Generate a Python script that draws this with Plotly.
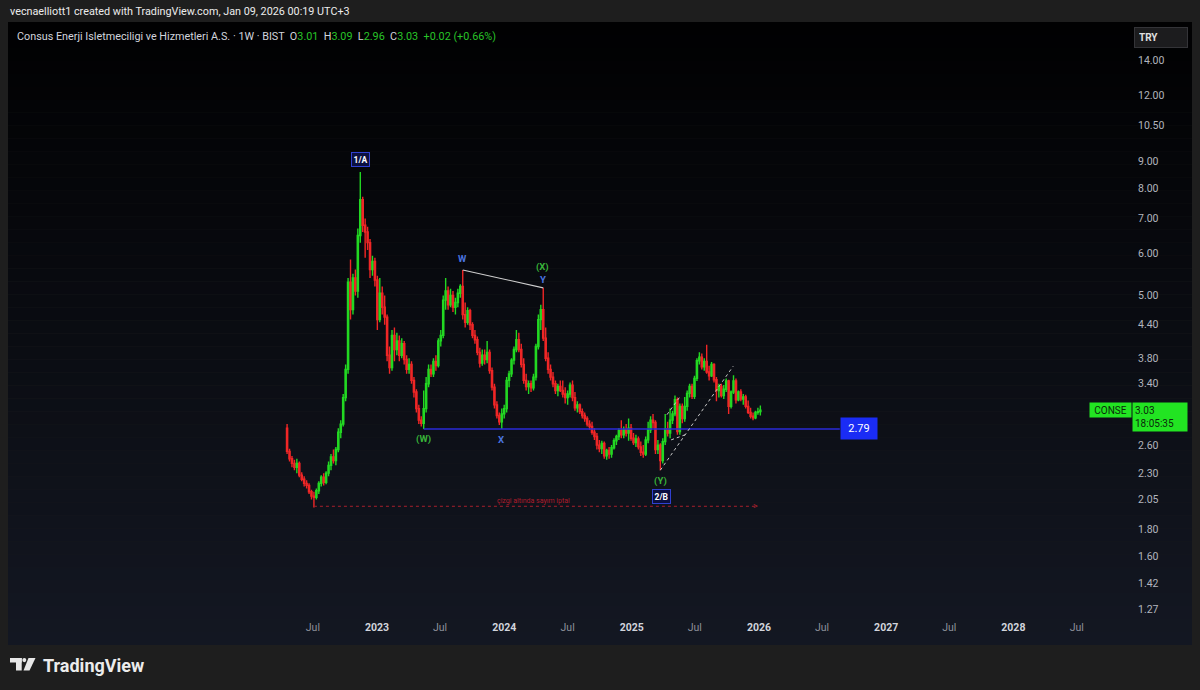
import numpy as np
import pandas as pd
import plotly.graph_objects as go

# ---------------- data (weekly OHLC) ----------------
open_ = [
    2.80, 2.53, 2.45, 2.40, 2.36, 2.40, 2.28, 2.24, 2.20, 2.18,
    2.12, 2.08, 2.07, 2.13, 2.20, 2.26, 2.21, 2.30, 2.38, 2.47,
    2.43, 2.55, 2.75, 2.85, 3.20, 3.62, 5.30, 4.70, 5.40, 5.10,
    6.50, 7.60, 6.80, 6.60, 6.30, 5.60, 5.80, 5.35, 4.50, 5.05,
    4.75, 4.55, 3.85, 3.65, 4.20, 3.95, 4.10, 3.85, 4.05, 3.78,
    3.62, 3.70, 3.45, 3.28, 3.05, 2.90, 2.86, 3.05, 3.40, 3.62,
    3.55, 3.75, 3.68, 4.10, 4.20, 4.90, 5.10, 4.80, 5.00, 4.75,
    4.85, 5.05, 5.20, 4.60, 4.45, 4.68, 4.40, 4.20, 4.12, 3.90,
    3.72, 3.85, 3.78, 3.90, 3.60, 3.35, 3.10, 2.96, 2.88, 2.98,
    3.05, 3.45, 3.55, 3.77, 3.95, 4.12, 3.95, 3.70, 3.45, 3.36,
    3.40, 3.34, 3.50, 4.00, 4.50, 4.70, 4.15, 3.80, 3.62, 3.50,
    3.40, 3.30, 3.36, 3.30, 3.25, 3.20, 3.25, 3.38, 3.20, 3.06,
    3.10, 3.01, 2.96, 2.92, 2.85, 2.82, 2.75, 2.70, 2.60, 2.56,
    2.62, 2.48, 2.54, 2.50, 2.57, 2.65, 2.70, 2.77, 2.72, 2.78,
    2.74, 2.80, 2.68, 2.63, 2.67, 2.58, 2.52, 2.50, 2.66, 2.78,
    2.90, 2.87, 2.55, 2.60, 2.43, 2.64, 2.79, 2.74, 2.90, 2.98,
    3.17, 2.76, 3.08, 2.92, 3.08, 3.26, 3.36, 3.22, 3.48, 3.76,
    3.82, 3.66, 3.75, 3.58, 3.52, 3.70, 3.46, 3.30, 3.36, 3.23,
    3.32, 3.44, 3.08, 3.28, 3.44, 3.17, 3.28, 3.18, 3.21, 3.08,
    3.00, 2.95, 2.93, 3.00, 3.01]
high = [
    2.85, 2.56, 2.48, 2.44, 2.45, 2.42, 2.31, 2.27, 2.23, 2.20,
    2.14, 2.12, 2.15, 2.22, 2.28, 2.30, 2.32, 2.42, 2.50, 2.55,
    2.58, 2.80, 2.90, 3.25, 3.70, 5.40, 5.85, 5.50, 5.60, 6.70,
    8.58, 7.70, 7.00, 6.75, 6.40, 5.95, 5.90, 5.45, 5.40, 5.20,
    5.00, 4.60, 4.00, 4.30, 4.35, 4.25, 4.20, 4.15, 4.10, 3.85,
    3.80, 3.75, 3.50, 3.32, 3.10, 2.95, 3.30, 3.50, 3.70, 3.70,
    3.80, 3.85, 4.15, 4.30, 5.00, 5.40, 5.20, 5.15, 5.10, 4.95,
    5.15, 5.25, 5.59, 4.85, 4.75, 4.72, 4.45, 4.30, 4.18, 3.98,
    3.95, 3.95, 4.10, 3.95, 3.65, 3.40, 3.15, 3.00, 3.05, 3.10,
    3.50, 3.60, 3.80, 4.00, 4.30, 4.25, 4.05, 3.80, 3.55, 3.45,
    3.45, 3.55, 4.05, 4.60, 4.80, 5.17, 4.35, 3.90, 3.70, 3.58,
    3.45, 3.40, 3.45, 3.45, 3.35, 3.30, 3.42, 3.45, 3.28, 3.15,
    3.12, 3.05, 3.00, 2.95, 2.90, 2.88, 2.80, 2.74, 2.66, 2.65,
    2.64, 2.56, 2.58, 2.60, 2.68, 2.72, 2.80, 2.90, 2.82, 2.85,
    2.92, 2.85, 2.74, 2.72, 2.70, 2.64, 2.60, 2.70, 2.88, 2.95,
    2.98, 2.90, 2.66, 2.62, 2.68, 2.98, 2.88, 3.05, 3.02, 3.23,
    3.20, 3.12, 3.12, 3.21, 3.30, 3.40, 3.40, 3.52, 3.80, 3.90,
    3.88, 3.80, 4.03, 3.68, 3.74, 3.72, 3.50, 3.40, 3.40, 3.38,
    3.48, 3.46, 3.30, 3.53, 3.48, 3.30, 3.32, 3.25, 3.24, 3.16,
    3.06, 3.00, 3.02, 3.06, 3.09]
low = [
    2.50, 2.42, 2.36, 2.33, 2.30, 2.26, 2.22, 2.17, 2.15, 2.10,
    2.05, 1.98, 2.05, 2.10, 2.17, 2.18, 2.19, 2.27, 2.33, 2.40,
    2.38, 2.52, 2.68, 2.82, 3.15, 3.55, 4.50, 4.60, 5.00, 4.95,
    6.30, 6.60, 5.90, 6.10, 5.40, 5.45, 5.20, 4.30, 4.45, 4.60,
    4.40, 3.75, 3.55, 3.60, 3.75, 3.85, 3.75, 3.80, 3.70, 3.55,
    3.55, 3.40, 3.20, 3.00, 2.85, 2.82, 2.79, 3.00, 3.35, 3.50,
    3.50, 3.60, 3.65, 4.00, 4.15, 4.70, 4.70, 4.75, 4.65, 4.60,
    4.75, 4.95, 4.50, 4.35, 4.40, 4.30, 4.15, 4.05, 3.85, 3.65,
    3.68, 3.70, 3.72, 3.55, 3.30, 3.05, 2.92, 2.84, 2.79, 2.92,
    3.00, 3.35, 3.50, 3.70, 3.90, 3.90, 3.65, 3.40, 3.30, 3.25,
    3.28, 3.30, 3.45, 3.95, 4.30, 4.10, 3.75, 3.55, 3.45, 3.35,
    3.25, 3.22, 3.28, 3.20, 3.12, 3.10, 3.20, 3.15, 3.02, 3.00,
    2.98, 2.92, 2.88, 2.82, 2.78, 2.72, 2.66, 2.55, 2.52, 2.50,
    2.45, 2.44, 2.45, 2.46, 2.55, 2.60, 2.66, 2.68, 2.68, 2.70,
    2.65, 2.65, 2.60, 2.58, 2.55, 2.48, 2.46, 2.48, 2.62, 2.74,
    2.80, 2.50, 2.50, 2.33, 2.40, 2.60, 2.70, 2.68, 2.85, 2.95,
    2.72, 2.72, 2.86, 2.88, 3.02, 3.20, 3.18, 3.18, 3.44, 3.70,
    3.62, 3.60, 3.55, 3.45, 3.50, 3.42, 3.15, 3.20, 3.20, 3.18,
    3.28, 2.98, 3.05, 3.25, 3.12, 3.15, 3.15, 3.10, 3.05, 2.98,
    2.92, 2.90, 2.91, 2.97, 2.96]
close = [
    2.53, 2.45, 2.40, 2.36, 2.40, 2.28, 2.24, 2.20, 2.18, 2.12,
    2.08, 2.07, 2.13, 2.20, 2.26, 2.21, 2.30, 2.38, 2.47, 2.43,
    2.55, 2.75, 2.85, 3.20, 3.62, 5.30, 4.70, 5.40, 5.10, 6.50,
    7.60, 6.80, 6.60, 6.30, 5.60, 5.80, 5.35, 4.50, 5.05, 4.75,
    4.55, 3.85, 3.65, 4.20, 3.95, 4.10, 3.85, 4.05, 3.78, 3.62,
    3.70, 3.45, 3.28, 3.05, 2.90, 2.86, 3.05, 3.40, 3.62, 3.55,
    3.75, 3.68, 4.10, 4.20, 4.90, 5.10, 4.80, 5.00, 4.75, 4.85,
    5.05, 5.20, 4.60, 4.45, 4.68, 4.40, 4.20, 4.12, 3.90, 3.72,
    3.85, 3.78, 3.90, 3.60, 3.35, 3.10, 2.96, 2.88, 2.98, 3.05,
    3.45, 3.55, 3.77, 3.95, 4.12, 3.95, 3.70, 3.45, 3.36, 3.40,
    3.34, 3.50, 4.00, 4.50, 4.70, 4.15, 3.80, 3.62, 3.50, 3.40,
    3.30, 3.36, 3.30, 3.25, 3.20, 3.25, 3.38, 3.20, 3.06, 3.10,
    3.01, 2.96, 2.92, 2.85, 2.82, 2.75, 2.70, 2.60, 2.56, 2.62,
    2.48, 2.54, 2.50, 2.57, 2.65, 2.70, 2.77, 2.72, 2.78, 2.74,
    2.80, 2.68, 2.63, 2.67, 2.58, 2.52, 2.50, 2.66, 2.78, 2.90,
    2.87, 2.55, 2.60, 2.43, 2.64, 2.79, 2.74, 2.90, 2.98, 3.17,
    2.76, 3.08, 2.92, 3.08, 3.26, 3.36, 3.22, 3.48, 3.76, 3.82,
    3.66, 3.75, 3.58, 3.52, 3.70, 3.46, 3.30, 3.36, 3.23, 3.32,
    3.44, 3.08, 3.28, 3.44, 3.17, 3.28, 3.18, 3.21, 3.08, 3.00,
    2.95, 2.93, 3.00, 3.01, 3.03]
dates = pd.date_range("2022-04-18", periods=len(close), freq="7D")

# drawings
support_level = 2.79
support_x = ["2023-05-15", "2026-08-21"]
wy_x = ["2023-09-04", "2024-04-22"]
wy_y = [5.59, 5.17]
invalid_level = 1.99
invalid_x = ["2022-07-04", "2025-12-26"]
channel_x = ["2025-03-24", "2025-10-19", None, "2025-04-12", "2025-05-19", None, "2025-04-24", "2025-06-03"]
channel_y = [2.33, 3.67, None, 2.97, 3.21, None, 2.66, 2.72]

xtick_vals = ["2022-07-01", "2023-01-01", "2023-07-01", "2024-01-01", "2024-07-01",
              "2025-01-01", "2025-07-01", "2026-01-01", "2026-07-01", "2027-01-01",
              "2027-07-01", "2028-01-01", "2028-07-01"]
xtick_labels = ["Jul", "2023", "Jul", "2024", "Jul", "2025", "Jul", "2026", "Jul",
                "2027", "Jul", "2028", "Jul"]
ytick_vals = [14, 12, 10.5, 9, 8, 7, 6, 5, 4.4, 3.8, 3.4, 2.6, 2.3, 2.05, 1.8, 1.6, 1.42, 1.27]

# wave labels: (text, date, price, color, boxed)
wave_labels = [
    ("1/A", "2022-11-14", 9.06, "#ffffff", True),
    ("W", "2023-09-02", 5.89, "#4a74e0", False),
    ("(X)", "2024-04-20", 5.66, "#39b539", False),
    ("Y", "2024-04-20", 5.37, "#4a74e0", False),
    ("(W)", "2023-05-14", 2.67, "#39b539", False),
    ("X", "2023-12-24", 2.67, "#4a74e0", False),
    ("(Y)", "2025-03-24", 2.22, "#39b539", False),
    ("2/B", "2025-03-26", 2.08, "#ffffff", True),
]

GREEN = "#22d822"
RED = "#f02626"

W, H = 1200, 690
ML, MR, MT, MB = 10, 110, 22, 75


def px(x):
    return (x - ML) / (W - ML - MR)


def py(y):
    return (H - MB - y) / (H - MT - MB)


fig = go.Figure()

fig.add_trace(go.Candlestick(
    x=dates, open=open_, high=high, low=low, close=close,
    increasing=dict(line=dict(color=GREEN, width=1.4), fillcolor=GREEN),
    decreasing=dict(line=dict(color=RED, width=1.4), fillcolor=RED),
    whiskerwidth=0, showlegend=False, hoverinfo="skip"))

fig.add_trace(go.Scatter(x=support_x, y=[support_level, support_level], mode="lines",
                         line=dict(color="#2a2ad8", width=1.5), hoverinfo="skip", showlegend=False))
fig.add_trace(go.Scatter(x=wy_x, y=wy_y, mode="lines",
                         line=dict(color="#d0d0d0", width=1.1), hoverinfo="skip", showlegend=False))
fig.add_trace(go.Scatter(x=invalid_x, y=[invalid_level, invalid_level], mode="lines",
                         line=dict(color="#a8202c", width=1, dash="dot"), hoverinfo="skip", showlegend=False))
fig.add_trace(go.Scatter(x=channel_x, y=channel_y, mode="lines", connectgaps=False,
                         line=dict(color="#c8c8c8", width=1, dash="dot"), hoverinfo="skip", showlegend=False))

# ---------------- background gradient panel ----------------
shapes = []
n = 48
top_px, bot_px = 22, 645
c0 = np.array([1, 1, 2])
c1 = np.array([20, 24, 35])
for i in range(n):
    y0 = top_px + (bot_px - top_px) * i / n
    y1 = top_px + (bot_px - top_px) * (i + 1) / n
    t = (i + 0.5) / n
    c = (c0 + (c1 - c0) * t).astype(int)
    shapes.append(dict(type="rect", xref="paper", yref="paper", x0=px(8), x1=px(1192),
                       y0=py(y1), y1=py(y0), line=dict(width=0),
                       fillcolor=f"rgb({c[0]},{c[1]},{c[2]})", layer="below"))

# TradingView logo glyph
logo = "#e8e8e8"
shapes.append(dict(type="rect", xref="paper", yref="paper", x0=px(10), x1=px(21.7), y0=py(662.5), y1=py(658),
                   fillcolor=logo, line=dict(width=0)))
shapes.append(dict(type="rect", xref="paper", yref="paper", x0=px(16), x1=px(21.7), y0=py(670.5), y1=py(658),
                   fillcolor=logo, line=dict(width=0)))
shapes.append(dict(type="circle", xref="paper", yref="paper", x0=px(22.3), x1=px(26.3), y0=py(662.2), y1=py(658),
                   fillcolor=logo, line=dict(width=0)))
shapes.append(dict(type="path", xref="paper", yref="paper",
                   path=f"M {px(28.5)},{py(658)} L {px(35.5)},{py(658)} L {px(29.5)},{py(670.5)} L {px(23.5)},{py(670.5)} Z",
                   fillcolor=logo, line=dict(width=0)))

annotations = []
FONT = "Roboto, Arial, sans-serif"

for text, xd, yv, col, boxed in wave_labels:
    if boxed:
        annotations.append(dict(x=xd, y=np.log10(yv), xref="x", yref="y", text=f"<b>{text}</b>",
                                showarrow=False, xanchor="center", yanchor="middle",
                                font=dict(family=FONT, size=8.5, color=col),
                                bgcolor="#0b1040", bordercolor="#3040d0", borderwidth=1, borderpad=1.5))
    else:
        annotations.append(dict(x=xd, y=np.log10(yv), xref="x", yref="y", text=f"<b>{text}</b>",
                                showarrow=False, xanchor="center", yanchor="middle",
                                font=dict(family=FONT, size=9.5, color=col)))

annotations.append(dict(x="2024-03-24", y=np.log10(2.04), xref="x", yref="y",
                        text="çizgi altında sayım iptal", showarrow=False,
                        xanchor="center", yanchor="middle",
                        font=dict(family=FONT, size=7, color="#b01c2c")))
annotations.append(dict(x=invalid_x[1], y=np.log10(invalid_level), xref="x", yref="y",
                        text=">", showarrow=False, xanchor="right", yanchor="middle", xshift=3, yshift=0.5,
                        font=dict(family=FONT, size=9, color="#a8202c")))
annotations.append(dict(x=support_x[1], y=np.log10(support_level), xref="x", yref="y",
                        text="2.79", showarrow=False, xanchor="left", yanchor="middle",
                        font=dict(family=FONT, size=11, color="#ffffff"),
                        bgcolor="#1a2cf5", borderpad=4, width=28))

# right price labels
annotations.append(dict(x=px(1110), y=np.log10(3.03), xref="paper", yref="y", text="CONSE",
                        showarrow=False, xanchor="center", yanchor="middle",
                        font=dict(family=FONT, size=10, color="#0b2a0b"),
                        bgcolor="#22e422", borderpad=1.5, width=38))
annotations.append(dict(x=px(1132), y=np.log10(3.03), xref="paper", yref="y",
                        text="3.03<br>18:05:35", showarrow=False, xanchor="left", yanchor="top", yshift=8,
                        align="left", font=dict(family=FONT, size=10, color="#0b2a0b"),
                        bgcolor="#22e422", borderpad=2, width=50))
annotations.append(dict(x=px(1134), y=py(37), xref="paper", yref="paper", text="<b>TRY</b>",
                        showarrow=False, xanchor="left", yanchor="middle", align="left",
                        font=dict(family=FONT, size=10, color="#e0e0e0"),
                        bgcolor="#1c1c1e", bordercolor="#343438", borderwidth=1, borderpad=4, width=44))

# header texts
g = "#28c428"
header = ("Consus Enerji Isletmeciligi ve Hizmetleri A.S. · 1W · BIST  "
          f"O<span style='color:{g}'>3.01</span>  H<span style='color:{g}'>3.09</span>  "
          f"L<span style='color:{g}'>2.96</span>  C<span style='color:{g}'>3.03</span>  "
          f"<span style='color:{g}'>+0.02 (+0.66%)</span>")
annotations.append(dict(x=px(15), y=py(36), xref="paper", yref="paper", text=header, showarrow=False,
                        xanchor="left", yanchor="middle", font=dict(family=FONT, size=10.8, color="#d1d4dc")))
annotations.append(dict(x=px(8), y=py(11), xref="paper", yref="paper",
                        text="vecnaelliott1 created with TradingView.com, Jan 09, 2026 00:19 UTC+3",
                        showarrow=False, xanchor="left", yanchor="middle",
                        font=dict(family=FONT, size=10.8, color="#ececec")))
annotations.append(dict(x=px(41), y=py(665), xref="paper", yref="paper", text="<b>TradingView</b>",
                        showarrow=False, xanchor="left", yanchor="middle",
                        font=dict(family=FONT, size=18, color="#ececec")))

xtick_text = [f"<span style='color:#8d909a'>{t}</span>" if t == "Jul" else f"<b>{t}</b>" for t in xtick_labels]

x_left = pd.Timestamp("2023-01-01") - pd.Timedelta(days=1053.1)
x_right = pd.Timestamp("2023-01-01") + pd.Timedelta(days=2045.9)

fig.update_layout(
    width=W, height=H,
    margin=dict(l=ML, r=MR, t=MT, b=MB),
    paper_bgcolor="#1e1e1e",
    plot_bgcolor="rgba(0,0,0,0)",
    shapes=shapes,
    annotations=annotations,
    showlegend=False,
    hovermode=False,
    xaxis=dict(type="date", range=[x_left, x_right], rangeslider=dict(visible=False),
               showgrid=False, zeroline=False, showline=False, ticks="",
               tickmode="array", tickvals=xtick_vals, ticktext=xtick_text,
               tickfont=dict(family=FONT, size=10.5, color="#d1d4dc"), ticklabelstandoff=4),
    yaxis=dict(type="log", range=[np.log10(1.2372), np.log10(16.529)], side="right",
               showgrid=False, zeroline=False, showline=False, ticks="",
               tickmode="array", tickvals=ytick_vals, ticktext=[f"{v:.2f}" for v in ytick_vals],
               tickfont=dict(family=FONT, size=10.5, color="#b2b5be"), ticklabelstandoff=47),
)

fig.write_html("out.html", config={"displayModeBar": False},
               post_script="document.body.style.margin='0';document.body.style.background='#1e1e1e';")
